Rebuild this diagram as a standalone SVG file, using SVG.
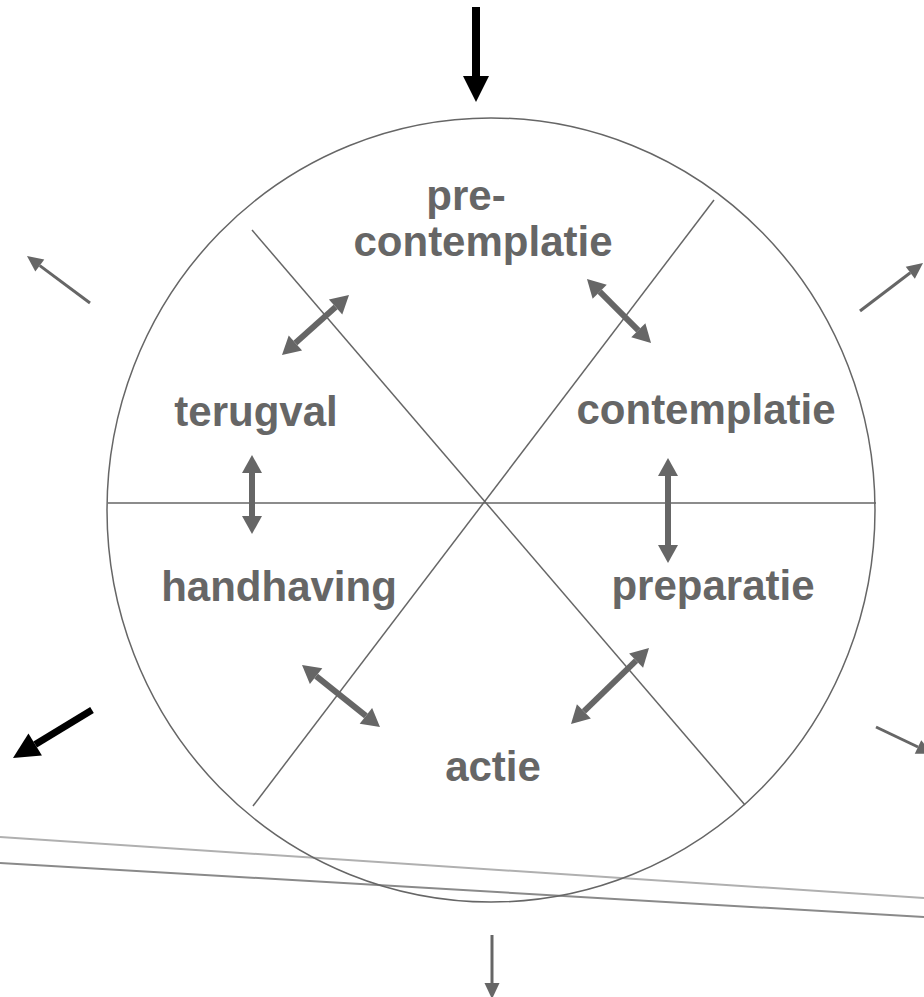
<svg xmlns="http://www.w3.org/2000/svg" width="924" height="997" viewBox="0 0 924 997">
<style>
.lbl{font-family:"Liberation Sans",Arial,sans-serif;font-weight:bold;font-size:42px;fill:#666;text-anchor:middle}
.div{stroke:#666;stroke-width:1.5;fill:none}
.dbl{stroke:#666;stroke-width:6;marker-start:url(#hg);marker-end:url(#hg)}
.thin{stroke:#666;stroke-width:3;marker-end:url(#hs)}
.blk{stroke:#000;stroke-width:8;marker-end:url(#hb)}
</style>
<defs>
<marker id="hg" markerUnits="userSpaceOnUse" markerWidth="18" markerHeight="20" refX="0" refY="10" orient="auto-start-reverse" overflow="visible"><path d="M0,0 L18,10 L0,20 z" fill="#666"/></marker>
<marker id="hs" markerUnits="userSpaceOnUse" markerWidth="16" markerHeight="15" refX="0" refY="7.5" orient="auto" overflow="visible"><path d="M0,0 L16,7.5 L0,15 z" fill="#666"/></marker>
<marker id="hb" markerUnits="userSpaceOnUse" markerWidth="26" markerHeight="26" refX="0" refY="13" orient="auto" overflow="visible"><path d="M0,0 L26,13 L0,26 z" fill="#000"/></marker>
</defs>
<rect width="924" height="997" fill="#fff"/>
<g id="ground">
<line x1="0" y1="837" x2="924" y2="898" stroke="#b0b0b0" stroke-width="2"/>
<line x1="0" y1="863" x2="924" y2="917" stroke="#8a8a8a" stroke-width="2"/>
</g>
<g id="wheel">
<ellipse class="div" cx="491" cy="510" rx="384" ry="392"/>
<line class="div" x1="108" y1="503" x2="876" y2="503"/>
<line class="div" x1="252" y1="230" x2="745" y2="805"/>
<line class="div" x1="714" y1="200" x2="253" y2="806"/>
</g>
<g id="precontemplatie"><text class="lbl" x="466" y="210">pre-</text><text class="lbl" x="483" y="256">contemplatie</text></g>
<g id="contemplatie"><text class="lbl" x="706" y="424">contemplatie</text></g>
<g id="preparatie"><text class="lbl" x="713" y="600">preparatie</text></g>
<g id="actie"><text class="lbl" x="493" y="781">actie</text></g>
<g id="handhaving"><text class="lbl" x="279" y="601">handhaving</text></g>
<g id="terugval"><text class="lbl" x="256" y="426">terugval</text></g>
<g id="connectors">
<line class="dbl" x1="295.4" y1="343" x2="335.6" y2="307"/>
<line class="dbl" x1="599.7" y1="291.7" x2="638.3" y2="330.3"/>
<line class="dbl" x1="668" y1="476" x2="668" y2="545"/>
<line class="dbl" x1="252" y1="473" x2="252" y2="516"/>
<line class="dbl" x1="316.1" y1="676.2" x2="365.9" y2="715.8"/>
<line class="dbl" x1="583.9" y1="711.4" x2="636.1" y2="660.6"/>
<line class="blk" x1="476" y1="7" x2="476" y2="76"/>
<line class="blk" x1="92" y1="710" x2="35.2" y2="744.5" style="stroke-width:7"/>
<line class="thin" x1="90" y1="303" x2="39.8" y2="265.6"/>
<line class="thin" x1="860" y1="311" x2="910.3" y2="272.7"/>
<line class="thin" x1="876" y1="727" x2="918" y2="747"/>
<line class="thin" x1="492" y1="935" x2="492" y2="983"/>
</g>
</svg>
